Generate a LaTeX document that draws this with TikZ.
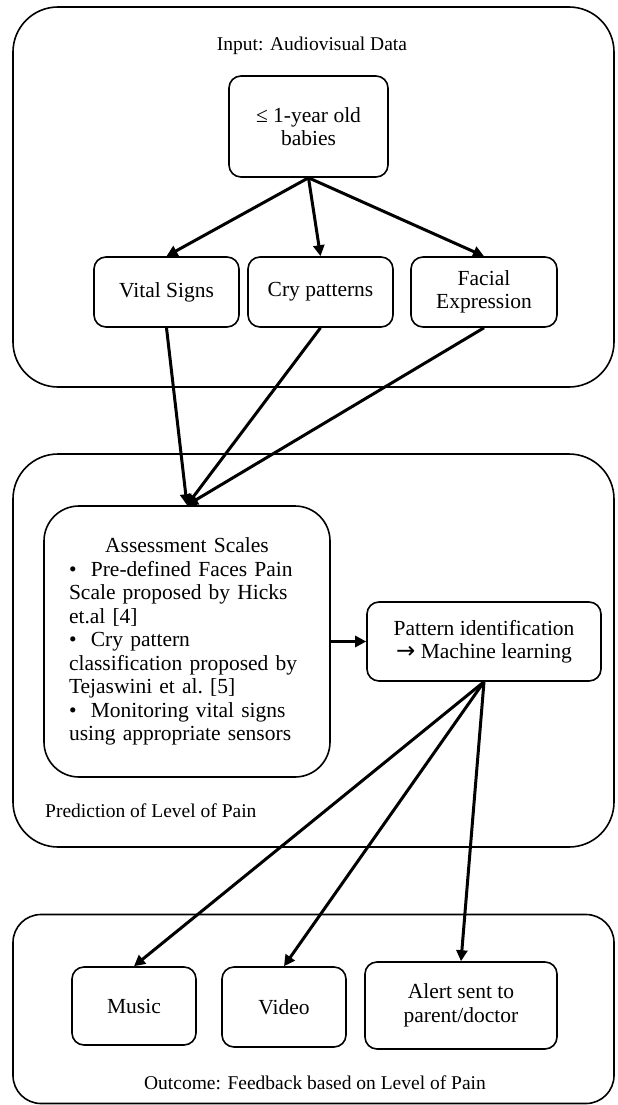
\documentclass[tikz,border=0pt]{standalone}
\usepackage{fontspec}
\setmainfont{Liberation Serif}
\newfontfamily\arrowfont{DejaVu Sans}
\usetikzlibrary{arrows.meta}
\begin{document}
\begin{tikzpicture}
  [x=1pt,y=-1pt,every node/.style={inner sep=0pt,align=center,font=\fontsize{21.5}{23.5}\selectfont}]
  \tikzstyle{panel} = [draw,line width=1.6pt,rounded corners=45pt]
  \tikzstyle{box} = [draw,line width=1.6pt,rounded corners=12pt]
  \tikzstyle{caption} = [font=\fontsize{19.5}{23}\selectfont]
  \tikzstyle{link} = [line width=3pt,-{Triangle[length=11pt,width=11pt]}]
  \useasboundingbox (0,0) rectangle (618,1105);
  % the three stages
  \node[panel,minimum width=601pt,minimum height=380pt] (input) at (313.5,197) {};
  \node[panel,minimum width=601pt,minimum height=393pt] (predict) at (313.5,650.5) {};
  \node[panel,rounded corners=28pt,minimum width=601pt,minimum height=189pt] (outcome) at (313.5,1009) {};
  \node[caption] (inputlbl) at (312,46) {Input: Audiovisual Data};
  \node[caption,anchor=west] (predictlbl) at (45,811) {Prediction of Level of Pain};
  \node[caption] (outcomelbl) at (315,1083) {Outcome: Feedback based on Level of Pain};
  % input
  \node[box,minimum width=159pt,minimum height=101pt] (baby) at (308.5,126.5) {≤ 1-year old\\babies};
  \node[box,minimum width=145pt,minimum height=70pt] (vital) at (166.5,292) {Vital Signs};
  \node[box,minimum width=145pt,minimum height=70pt] (cry) at (320.5,292) {Cry patterns};
  \node[box,minimum width=146pt,minimum height=70pt] (face) at (484,292) {Facial\\Expression};
  % prediction
  \node[box,rounded corners=35pt,minimum width=286pt,minimum height=271pt,align=left,text width=236pt] (assess) at (187,641.5)
    {\makebox[236pt][c]{Assessment Scales}\\
     \textbullet\ \ Pre-defined Faces Pain\\
     Scale proposed by Hicks\\
     et.al [4]\\
     \textbullet\ \ Cry pattern\\
     classification proposed by\\
     Tejaswini et al.\ [5]\\
     \textbullet\ \ Monitoring vital signs\\
     using appropriate sensors};
  \node[box,minimum width=234pt,minimum height=79pt] (pattern) at (484,641.5) {Pattern identification\\{\arrowfont\fontsize{23}{23}\selectfont →} Machine learning};
  % outcome
  \node[box,minimum width=124pt,minimum height=78pt] (music) at (134,1006) {Music};
  \node[box,minimum width=124pt,minimum height=80pt] (video) at (284,1007) {Video};
  \node[box,minimum width=192pt,minimum height=87pt] (alert) at (461,1005.5) {Alert sent to\\parent/doctor};
  \foreach \source/\dest in {baby.south/vital.north,baby.south/cry.north,baby.south/face.north,
    vital.south/assess.north,cry.south/assess.north,face.south/assess.north,assess.east/pattern.west,
    pattern.south/music.north,pattern.south/video.north,pattern.south/alert.north}
   \draw[link] (\source) -- (\dest);
\end{tikzpicture}
\end{document}
